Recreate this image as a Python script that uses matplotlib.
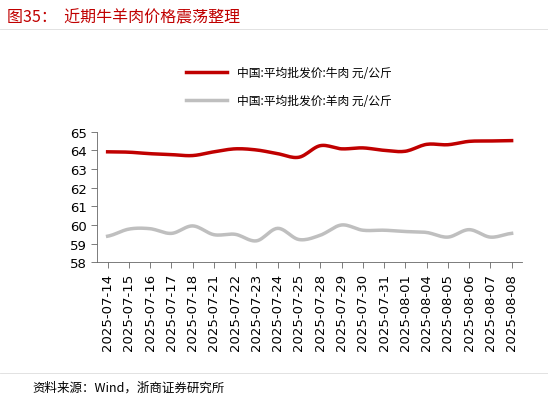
import matplotlib.pyplot as plt
import numpy as np

plt.rcParams['font.family'] = ['Noto Sans CJK SC', 'DejaVu Sans']

dates = ["2025-07-14", "2025-07-15", "2025-07-16", "2025-07-17", "2025-07-18", "2025-07-21",
         "2025-07-22", "2025-07-23", "2025-07-24", "2025-07-25", "2025-07-28", "2025-07-29",
         "2025-07-30", "2025-07-31", "2025-08-01", "2025-08-04", "2025-08-05", "2025-08-06",
         "2025-08-07", "2025-08-08"]
beef = [63.92, 63.9, 63.82, 63.77, 63.72, 63.92, 64.08, 64.02, 63.82, 63.63,
        64.25, 64.08, 64.13, 64.0, 63.95, 64.32, 64.3, 64.48, 64.5, 64.52]
mutton = [59.4, 59.78, 59.8, 59.55, 59.95, 59.48, 59.5, 59.15, 59.82, 59.22,
          59.45, 60.0, 59.72, 59.72, 59.65, 59.6, 59.35, 59.75, 59.35, 59.55]


def smooth(y, n=12):
    # Catmull-Rom curve through the points, like Excel's smoothed line
    y = np.asarray(y, float)
    p = np.concatenate([[y[0]], y, [y[-1]]])
    xs, ys = [], []
    for i in range(len(y) - 1):
        t = np.linspace(0, 1, n, endpoint=False)
        p0, p1, p2, p3 = p[i], p[i + 1], p[i + 2], p[i + 3]
        ys.append(0.5 * (2 * p1 + (-p0 + p2) * t + (2 * p0 - 5 * p1 + 4 * p2 - p3) * t ** 2
                         + (-p0 + 3 * p1 - 3 * p2 + p3) * t ** 3))
        xs.append(i + t)
    xs.append([len(y) - 1])
    ys.append([y[-1]])
    return np.concatenate(xs), np.concatenate(ys)


fig = plt.figure(figsize=(5.48, 4.02), dpi=100)
ax = fig.add_axes([0.177, 0.345, 0.776, 0.325])
x = np.arange(len(dates))
sx, sy = smooth(beef)
ax.plot(sx, sy, color="#c00000", lw=2.5, label="中国:平均批发价:牛肉 元/公斤")
sx, sy = smooth(mutton)
ax.plot(sx, sy, color="#bfbfbf", lw=2.5, label="中国:平均批发价:羊肉 元/公斤")

ax.set_ylim(58, 65)
ax.set_yticks(range(58, 66))
ax.set_xlim(-0.5, len(dates) - 0.5)
ax.set_xticks(x)
ax.set_xticklabels(dates, rotation=90, fontsize=9.5, family="DejaVu Sans")
for lab in ax.get_yticklabels():
    lab.set_family("DejaVu Sans")
    lab.set_fontsize(9.5)
ax.tick_params(length=4, width=0.6, color="#666666")
for s in ["top", "right"]:
    ax.spines[s].set_visible(False)
for s in ["left", "bottom"]:
    ax.spines[s].set_color("#666666")
    ax.spines[s].set_linewidth(0.6)

fig.legend(loc="upper left", bbox_to_anchor=(0.32, 0.86), frameon=False, fontsize=8.5,
           handlelength=3.5, labelspacing=1.3)

fig.text(0.012, 0.955, "图35：  近期牛羊肉价格震荡整理", color="#c00000", fontsize=11.5, va="center")
fig.add_artist(plt.Line2D([0.0, 1.0], [0.925, 0.925], color="#dddddd", lw=0.6))
fig.add_artist(plt.Line2D([0.0, 1.0], [0.07, 0.07], color="#dddddd", lw=0.6))
fig.text(0.06, 0.035, "资料来源：Wind，浙商证券研究所", fontsize=9, va="center")

fig.savefig("out.png", dpi=100)
